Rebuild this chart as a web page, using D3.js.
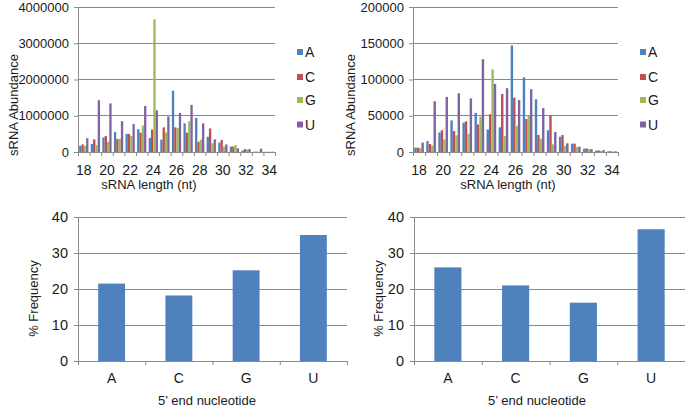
<!DOCTYPE html>
<html><head><meta charset="utf-8">
<script src="https://cdn.jsdelivr.net/npm/d3@7"></script>
<style>
body{margin:0;background:#fff}
svg{display:block}
text{font-family:"Liberation Sans",Arial,Helvetica,sans-serif;fill:#1a1a1a}
</style>
</head><body>
<svg id="chart" width="685" height="407"></svg>
<script>
// ---------- data ----------
const lengths = [18,19,20,21,22,23,24,25,26,27,28,29,30,31,32,33,34];
const lengthLabels = [18,20,22,24,26,28,30,32,34];
const nucleotides = ["A","C","G","U"];
const colors = ["#4F81BD","#C0504D","#9BBB59","#8064A2"];

// library 1 (left) sRNA abundance by 5' nucleotide
const lib1A = [170000,220000,400000,550000,500000,630000,390000,340000,1690000,790000,940000,420000,260000,150000,40000,10000,5000];
const lib1C = [210000,350000,440000,360000,500000,530000,620000,680000,680000,530000,280000,650000,330000,150000,80000,10000,5000];
const lib1G = [170000,190000,280000,360000,440000,730000,3660000,540000,660000,850000,340000,240000,150000,190000,70000,10000,5000];
const lib1U = [380000,1430000,1340000,850000,770000,1270000,1150000,980000,1080000,1300000,790000,350000,210000,100000,80000,90000,10000];
const lib1Ticks = [0,1000000,2000000,3000000,4000000];

// library 2 (right)
const lib2A = [6000,15000,27000,43500,40500,54000,31000,34000,147000,103000,72600,30000,21000,11500,4600,2000,1000];
const lib2C = [6000,11000,30000,29000,42300,38000,52000,80000,75000,45500,23400,50600,23400,11500,5000,2000,1000];
const lib2G = [5500,9000,17500,23000,25000,48700,114000,22000,36000,50000,18500,10600,8300,6900,4000,1500,500];
const lib2U = [12900,70000,76000,81000,74000,128000,94000,88000,71700,86500,60500,27600,12000,7400,4000,2500,1000];
const lib2Ticks = [0,50000,100000,150000,200000];

// % frequency of 5' end nucleotide
const freq1 = [21.5,18.2,25.2,35.0];
const freq2 = [26.0,21.0,16.2,36.6];
const freqTicks = [0,10,20,30,40];

// ---------- drawing ----------
const svg = d3.select("#chart");
svg.append("rect").attr("width",685).attr("height",407).attr("fill","#fff");
const GRID = "#8a8a8a";

function styleAxis(g){
  g.selectAll(".domain").attr("stroke",GRID);
  g.selectAll(".tick line").attr("stroke",GRID);
  g.selectAll(".tick text").attr("fill","#1a1a1a");
}

function grouped(cfg){
  const g = svg.append("g");
  const series = cfg.series;
  const y = d3.scaleLinear().domain([0, cfg.ticks[cfg.ticks.length-1]]).range([cfg.yb, cfg.yt]);
  const x = d3.scaleBand().domain(lengths).range([cfg.x0, cfg.x1]).paddingInner(0.2).paddingOuter(0.1);
  const xs = d3.scaleBand().domain(nucleotides).range([0, x.bandwidth()]);
  const xb = d3.scaleLinear().domain([0, lengths.length]).range([cfg.x0, cfg.x1]);

  g.append("g").selectAll("line").data(cfg.ticks.slice(1)).join("line")
    .attr("x1",cfg.x0).attr("x2",cfg.x1).attr("y1",d=>y(d)).attr("y2",d=>y(d))
    .attr("stroke",GRID).attr("stroke-width",1).attr("shape-rendering","crispEdges");

  nucleotides.forEach((n,i)=>{
    g.append("g").selectAll("rect").data(series[i]).join("rect")
      .attr("x",(d,j)=>x(lengths[j]) + xs(n))
      .attr("width",xs.bandwidth())
      .attr("y",d=>y(d))
      .attr("height",d=>cfg.yb - y(d))
      .attr("fill",colors[i]);
  });

  const ya = g.append("g").attr("transform",`translate(${cfg.x0},0)`)
    .call(d3.axisLeft(y).tickValues(cfg.ticks).tickSize(4).tickPadding(5).tickFormat(d3.format("d")));
  ya.selectAll("text").attr("font-size",13).attr("font-family",'"Liberation Sans",Arial,sans-serif');
  styleAxis(ya);

  const xa = g.append("g").attr("transform",`translate(0,${cfg.yb})`)
    .call(d3.axisBottom(xb).tickValues(d3.range(lengths.length+1)).tickSize(4).tickFormat(""));
  styleAxis(xa);

  g.append("g").selectAll("text").data(lengthLabels).join("text")
    .attr("x",d=>x(d)+x.bandwidth()/2).attr("y",174.7)
    .attr("text-anchor","middle").attr("font-size",14).text(d=>d);

  g.append("text").attr("x",cfg.xtx).attr("y",188.7).attr("text-anchor","middle")
    .attr("font-size",13).text("sRNA length (nt)");
  g.append("text").attr("transform",`translate(${cfg.ytx},105) rotate(-90)`)
    .attr("text-anchor","middle").attr("font-size",13).text("sRNA Abundance");

  const leg = g.append("g");
  const ly = [52,77,100,124.5];
  nucleotides.forEach((n,i)=>{
    leg.append("rect").attr("x",cfg.lx).attr("y",ly[i]-3).attr("width",6).attr("height",6).attr("fill",colors[i]);
    leg.append("text").attr("x",cfg.lx+8).attr("y",ly[i]+5).attr("font-size",14).text(n);
  });
}

function freqChart(cfg){
  const g = svg.append("g");
  const y = d3.scaleLinear().domain([0,40]).range([361,217]);
  const x = d3.scaleBand().domain(nucleotides).range([cfg.x0,cfg.x1]).paddingInner(0.6).paddingOuter(0.3);
  const xb = d3.scaleLinear().domain([0,nucleotides.length]).range([cfg.x0,cfg.x1]);

  g.append("g").selectAll("line").data(freqTicks.slice(1)).join("line")
    .attr("x1",cfg.x0).attr("x2",cfg.x1).attr("y1",d=>y(d)).attr("y2",d=>y(d))
    .attr("stroke",GRID).attr("shape-rendering","crispEdges");

  g.append("g").selectAll("rect").data(cfg.values).join("rect")
    .attr("x",(d,i)=>x(nucleotides[i])).attr("width",x.bandwidth())
    .attr("y",d=>y(d)).attr("height",d=>361-y(d)).attr("fill",colors[0]);

  const ya = g.append("g").attr("transform",`translate(${cfg.x0},0)`)
    .call(d3.axisLeft(y).tickValues(freqTicks).tickSize(4).tickPadding(6));
  ya.selectAll("text").attr("font-size",14.5).attr("font-family",'"Liberation Sans",Arial,sans-serif');
  styleAxis(ya);

  const xa = g.append("g").attr("transform","translate(0,361)")
    .call(d3.axisBottom(xb).tickValues(d3.range(nucleotides.length+1)).tickSize(4).tickFormat(""));
  styleAxis(xa);

  g.append("g").selectAll("text").data(nucleotides).join("text")
    .attr("x",d=>x(d)+x.bandwidth()/2).attr("y",382.7)
    .attr("text-anchor","middle").attr("font-size",14).text(d=>d);

  g.append("text").attr("x",cfg.xtx).attr("y",405).attr("text-anchor","middle")
    .attr("font-size",13).text("5\u2019 end nucleotide");
  g.append("text").attr("transform",`translate(${cfg.ytx},298.5) rotate(-90)`)
    .attr("text-anchor","middle").attr("font-size",13).text("% Frequency");
}

grouped({series:[lib1A,lib1C,lib1G,lib1U],ticks:lib1Ticks,x0:78,x1:275,yt:7,yb:152,xtx:149,ytx:18,lx:297});
grouped({series:[lib2A,lib2C,lib2G,lib2U],ticks:lib2Ticks,x0:413,x1:618,yt:7,yb:152,xtx:508,ytx:355,lx:640});
freqChart({values:freq1,x0:78,x1:347,xtx:207,ytx:37.5});
freqChart({values:freq2,x0:414,x1:685,xtx:537,ytx:382.5});
</script>
</body></html>
